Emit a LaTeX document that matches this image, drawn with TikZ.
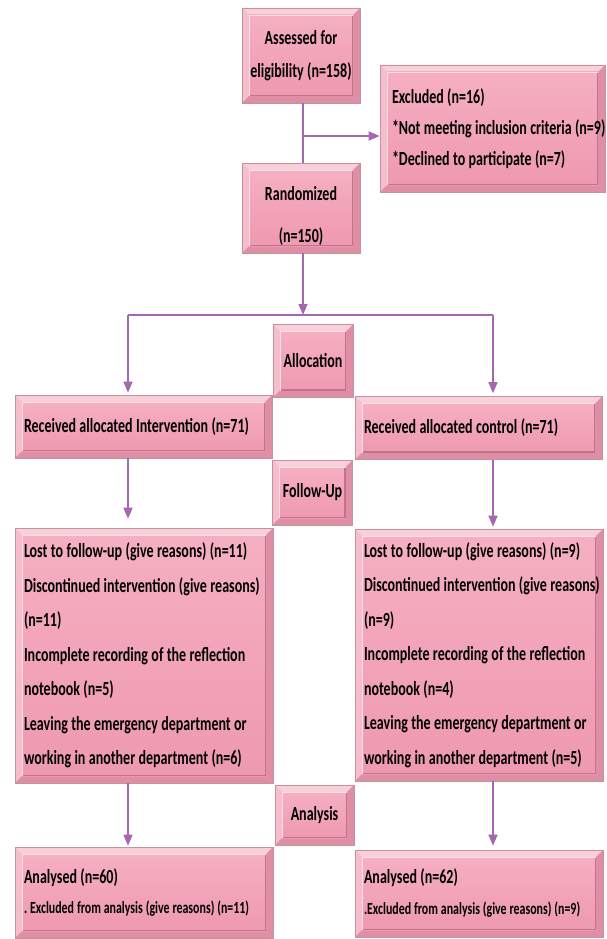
\documentclass[tikz,border=0pt]{standalone}
\usepackage{fontspec}
\setmainfont{Carlito}[FakeStretch=0.70]
\usetikzlibrary{arrows.meta}
\newcommand\fsz[2]{\fontsize{#1}{#2}\selectfont}
\newcommand\oneline[1]{\mbox{\spaceskip=0.17em\xspaceskip=0.17em\relax #1}}
\hfuzz=100pt
\definecolor{frameL}{HTML}{F6BDCC}
\definecolor{frameT}{HTML}{F9CFDA}
\definecolor{frameD}{HTML}{DE8EA5}
\definecolor{faceT}{HTML}{F6AFC2}
\definecolor{faceB}{HTML}{EE99B0}
\definecolor{shadowC}{HTML}{C2728B}
\definecolor{edgeC}{HTML}{C4929F}
\definecolor{arrC}{HTML}{A467B0}
\def\bv{7pt}
\tikzset{
  bevel/.style={rectangle, inner sep=0pt, draw=edgeC, line width=0.6pt, fill=frameL,
    text=black, font=\bfseries\fsz{20}{33},
    path picture={
      \coordinate (@nw) at (path picture bounding box.north west);
      \coordinate (@ne) at (path picture bounding box.north east);
      \coordinate (@sw) at (path picture bounding box.south west);
      \coordinate (@se) at (path picture bounding box.south east);
      \coordinate (@inw) at ([shift={(\bv,-\bv)}]@nw);
      \coordinate (@ine) at ([shift={(-\bv,-\bv)}]@ne);
      \coordinate (@isw) at ([shift={(\bv,\bv)}]@sw);
      \coordinate (@ise) at ([shift={(-\bv,\bv)}]@se);
      \fill[frameT] (@nw) -- (@ne) -- (@ine) -- (@inw) -- cycle;
      \fill[frameL] (@nw) -- (@inw) -- (@isw) -- (@sw) -- cycle;
      \fill[frameD] (@sw) -- (@isw) -- (@ise) -- (@se) -- cycle;
      \fill[frameD] (@ne) -- (@se) -- (@ise) -- (@ine) -- cycle;
      \shade[top color=faceT, bottom color=faceB] (@inw) rectangle (@ise);
      \draw[shadowC, line width=1.2pt] ([shift={(0.6pt,0.6pt)}]@isw) -- ([shift={(-0.6pt,0.6pt)}]@ise) -- ([shift={(-0.6pt,-0.6pt)}]@ine);
      \draw[white!60!faceT, line width=0.8pt] (@isw) -- (@inw) -- (@ine);
    }},
  conn/.style={draw=arrC, line width=1.5pt},
  arr/.style={conn, -{Triangle[length=11pt,width=9pt]}},
  lefttext/.style={align=left, text width=#1},
}
\begin{document}
\begin{tikzpicture}[x=1pt,y=-1pt]
\useasboundingbox[fill=white] (0,0) rectangle (607,939);

\node[bevel, minimum width=118pt, minimum height=95pt, align=center] (assess) at (301,55.5)
  {\oneline{Assessed for}\\\oneline{eligibility (n=158)}};
\node[bevel, minimum width=225pt, minimum height=127pt, lefttext=201pt,
  font=\bfseries\fsz{20}{31}] (excl) at (492.5,128.5)
  {\oneline{Excluded (n=16)}\\\oneline{*Not meeting inclusion criteria (n=9)}\\\oneline{*Declined to participate (n=7)}};
\node[bevel, minimum width=118pt, minimum height=90pt, align=center,
  font=\bfseries\fsz{20}{42}] (rand) at (301,208)
  {\rule{0pt}{30pt}Randomized\\(n=150)};

\node[bevel, minimum width=80pt, minimum height=73pt] (alloc) at (313,361) {Allocation};
\node[bevel, minimum width=257pt, minimum height=63pt, lefttext=239pt] (recI) at (143.5,426.5)
  {\oneline{Received allocated Intervention (n=71)}};
\node[bevel, minimum width=247pt, minimum height=63pt, lefttext=229pt] (recC) at (478.5,428)
  {\oneline{Received allocated control (n=71)}};

\node[bevel, minimum width=80pt, minimum height=65pt] (follow) at (312.5,492.5) {Follow-Up};

\node[bevel, minimum width=258pt, minimum height=255pt, lefttext=240pt,
  font=\bfseries\fsz{20}{34.5}] (lostI) at (144,655.5)
  {\oneline{Lost to follow-up (give reasons) (n=11)}\\\oneline{Discontinued intervention (give reasons)}\\\oneline{(n=11)}\\\oneline{Incomplete recording of the reflection}\\\oneline{notebook (n=5)}\\\oneline{Leaving the emergency department or}\\\oneline{working in another department (n=6)}};
\node[bevel, minimum width=248pt, minimum height=252pt, lefttext=230pt,
  font=\bfseries\fsz{20}{34.5}] (lostC) at (479,655)
  {\oneline{Lost to follow-up (give reasons) (n=9)}\\\oneline{Discontinued intervention (give reasons)}\\\oneline{(n=9)}\\\oneline{Incomplete recording of the reflection}\\\oneline{notebook (n=4)}\\\oneline{Leaving the emergency department or}\\\oneline{working in another department (n=5)}};

\node[bevel, minimum width=79pt, minimum height=60pt] (analysis) at (314.5,815) {Analysis};

\node[bevel, minimum width=258pt, minimum height=91pt, lefttext=240pt,
  font=\bfseries\fsz{20}{30}] (anI) at (144,892.5)
  {\oneline{Analysed (n=60)}\\{\fsz{17}{17}\oneline{. Excluded from analysis (give reasons) (n=11)}}};
\node[bevel, minimum width=248pt, minimum height=87pt, lefttext=230pt,
  font=\bfseries\fsz{20}{31}] (anC) at (479,893.5)
  {\oneline{Analysed (n=62)}\\{\fsz{17}{17}\oneline{.Excluded from analysis (give reasons) (n=9)}}};

% connectors
\coordinate (j1) at (303,136);
\coordinate (split) at (303,315);
\coordinate (sL) at (128,315);
\coordinate (sR) at (493,315);

\draw[conn] (assess.south -| j1) -- (rand.north -| j1);
\draw[arr] (j1) -- (j1 -| excl.west);
\draw[arr] (rand.south -| split) -- (split);
\draw[conn] (sL) -- (sR);
\draw[arr] (sL) -- ([yshift=2pt]sL |- recI.north);
\draw[arr] (sR) -- ([yshift=3pt]sR |- recC.north);
\draw[arr, shorten >=9pt] (sL |- recI.south) -- (sL |- lostI.north);
\draw[arr, shorten >=2pt] (sR |- recC.south) -- (sR |- lostC.north);
\draw[arr, shorten >=1pt] (sL |- lostI.south) -- (sL |- anI.north);
\draw[arr, shorten >=4pt] (sR |- lostC.south) -- (sR |- anC.north);
\end{tikzpicture}
\end{document}
